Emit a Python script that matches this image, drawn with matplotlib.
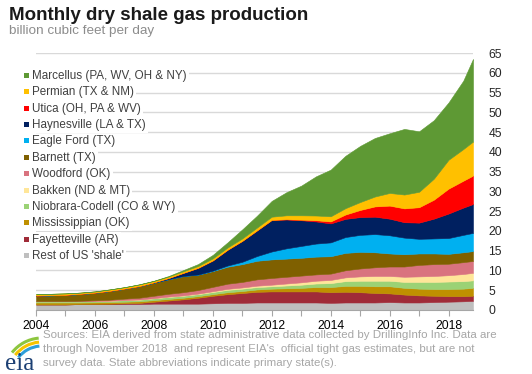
import matplotlib
matplotlib.use("Agg")
import matplotlib.pyplot as plt
from matplotlib.patches import Rectangle, Arc

plt.rcParams['font.family'] = ['Liberation Sans', 'DejaVu Sans']

W, H = 532, 374

# half-year readings, Jan / Jul of each year, last point = Nov 2018
years = [2004.0, 2004.5, 2005.0, 2005.5, 2006.0, 2006.5, 2007.0, 2007.5, 2008.0, 2008.5,
         2009.0, 2009.5, 2010.0, 2010.5, 2011.0, 2011.5, 2012.0, 2012.5, 2013.0, 2013.5,
         2014.0, 2014.5, 2015.0, 2015.5, 2016.0, 2016.5, 2017.0, 2017.5, 2018.0, 2018.5, 2018.83]

rest = [1.4, 1.4, 1.4, 1.5, 1.5, 1.5, 1.5, 1.5, 1.6, 1.6, 1.6, 1.6, 1.7, 1.8, 1.8, 1.9, 1.9, 1.9,
        1.9, 1.9, 1.8, 1.9, 1.9, 1.9, 2.0, 1.9, 1.9, 2.0, 2.1, 2.2, 2.3]
fayetteville = [0, 0, 0, 0, 0.05, 0.1, 0.2, 0.3, 0.5, 0.8, 1.1, 1.5, 1.9, 2.2, 2.5, 2.7, 2.8, 2.8,
                2.8, 2.8, 2.7, 2.7, 2.6, 2.4, 2.2, 2.0, 1.8, 1.6, 1.4, 1.3, 1.3]
mississippian = [0.5, 0.5, 0.5, 0.4, 0.4, 0.4, 0.4, 0.4, 0.4, 0.4, 0.4, 0.4, 0.4, 0.5, 0.5, 0.6,
                 0.7, 0.8, 0.9, 1.1, 1.3, 1.5, 1.6, 1.7, 1.8, 1.7, 1.7, 1.7, 1.8, 1.9, 2.0]
niobrara = [0.3, 0.3, 0.3, 0.3, 0.3, 0.35, 0.4, 0.4, 0.45, 0.5, 0.5, 0.5, 0.55, 0.6, 0.6, 0.6, 0.6,
            0.7, 0.8, 0.9, 1.0, 1.2, 1.3, 1.4, 1.4, 1.5, 1.7, 1.8, 1.9, 1.9, 1.9]
bakken = [0, 0, 0, 0, 0, 0, 0.02, 0.05, 0.05, 0.1, 0.1, 0.15, 0.2, 0.25, 0.3, 0.35, 0.4, 0.5, 0.6,
          0.7, 0.8, 0.95, 1.1, 1.2, 1.2, 1.3, 1.4, 1.5, 1.6, 1.8, 1.9]
woodford = [0.1, 0.1, 0.1, 0.15, 0.2, 0.25, 0.35, 0.45, 0.6, 0.7, 0.8, 0.9, 1.1, 1.3, 1.4, 1.6, 1.7,
            1.7, 1.7, 1.6, 1.6, 1.8, 2.0, 2.2, 2.4, 2.6, 2.9, 3.0, 2.9, 3.0, 3.0]
barnett = [1.3, 1.4, 1.5, 1.7, 1.9, 2.2, 2.5, 2.9, 3.3, 3.7, 4.1, 3.9, 4.0, 4.3, 4.5, 4.7, 4.7, 4.6,
           4.5, 4.5, 4.4, 4.4, 4.2, 3.8, 3.3, 3.1, 2.9, 2.7, 2.5, 2.5, 2.5]
eagle_ford = [0, 0, 0, 0, 0, 0, 0, 0, 0, 0, 0, 0.02, 0.1, 0.3, 0.6, 1.2, 2.0, 2.6, 3.0, 3.3, 3.5,
              4.0, 4.3, 4.6, 4.6, 4.2, 3.7, 3.8, 4.0, 4.4, 4.6]
haynesville = [0.05, 0.05, 0.05, 0.05, 0.05, 0.05, 0.05, 0.05, 0.1, 0.3, 0.8, 1.7, 2.6, 4.0, 5.3,
               6.5, 8.0, 7.3, 6.5, 5.6, 4.8, 4.6, 4.5, 4.4, 4.2, 3.9, 4.1, 5.0, 6.2, 6.9, 7.3]
utica = [0, 0, 0, 0, 0, 0, 0, 0, 0, 0, 0, 0, 0, 0, 0, 0, 0, 0.05, 0.15, 0.3, 0.5, 1.1, 1.8, 2.6,
         3.3, 3.5, 3.9, 4.8, 6.3, 6.8, 7.2]
permian = [0.35, 0.35, 0.35, 0.3, 0.3, 0.35, 0.35, 0.4, 0.35, 0.35, 0.4, 0.45, 0.5, 0.55, 0.6,
           0.7, 0.8, 1.0, 1.1, 1.2, 1.3, 1.6, 2.0, 2.5, 3.2, 3.5, 3.9, 5.3, 7.3, 8.0, 8.6]
marcellus = [0, 0, 0, 0, 0, 0, 0, 0.05, 0.05, 0.15, 0.3, 0.5, 0.9, 1.3, 2.3, 3.0, 4.0, 5.85, 7.5,
             9.9, 11.8, 13.25, 14.2, 14.8, 15.1, 16.6, 15.3, 14.8, 14.5, 17.3, 20.9]

# legend order, top to bottom
labels = ['Marcellus (PA, WV, OH & NY)', 'Permian (TX & NM)', 'Utica (OH, PA & WV)',
          'Haynesville (LA & TX)', 'Eagle Ford (TX)', 'Barnett (TX)', 'Woodford (OK)',
          'Bakken (ND & MT)', 'Niobrara-Codell (CO & WY)', 'Mississippian (OK)',
          'Fayetteville (AR)', "Rest of US 'shale'"]
colors = ['#5e9934', '#ffc000', '#ff0000', '#002060', '#00b0f0', '#7f6000', '#d9737f',
          '#ffe699', '#9bd275', '#bf9000', '#a02b38', '#bfbfbf']

series = [rest, fayetteville, mississippian, niobrara, bakken, woodford, barnett,
          eagle_ford, haynesville, utica, permian, marcellus]

fig = plt.figure(figsize=(W / 100, H / 100), dpi=100)
ax = fig.add_axes([36 / W, 1 - 310 / H, (473 - 36) / W, (310 - 53) / H])

polys = ax.stackplot(years, *series, colors=colors[::-1], linewidth=0)
for p, c in zip(polys, colors[::-1]):
    p.set_edgecolor(c)
    p.set_linewidth(0.4)

ax.set_xlim(2004, 2018.83)
ax.set_ylim(0, 65)
ax.set_yticks(range(0, 66, 5))
ax.grid(axis='y', color='#d9d9d9', linewidth=1)
ax.set_axisbelow(True)
ax.yaxis.tick_right()
ax.tick_params(axis='y', length=0, pad=11, labelsize=8.7, labelcolor='#262626')
for lab in ax.get_yticklabels():
    lab.set_horizontalalignment('left')

xt = list(range(2004, 2019))
ax.set_xticks(xt)
ax.set_xticklabels([str(y) if y % 2 == 0 else '' for y in xt])
ax.tick_params(axis='x', length=4, color='#a6a6a6', pad=3, labelsize=8.8, labelcolor='#000000')
for s in ['top', 'left', 'right']:
    ax.spines[s].set_visible(False)
ax.spines['bottom'].set_color('#a6a6a6')

# titles
fig.text(9 / W, 1 - 20.5 / H, 'Monthly dry shale gas production', fontsize=13.5,
         fontweight='bold', color='#1a1a1a', va='baseline')
fig.text(9 / W, 1 - 34 / H, 'billion cubic feet per day', fontsize=9.7,
         color='#8c8c8c', va='baseline')

# legend drawn by hand, white boxes cut the gridlines like the original
for i, (lab, c) in enumerate(zip(labels, colors)):
    yc = 75 + 16.36 * i
    fig.text(32.5 / W, 1 - (yc + 4) / H, lab, fontsize=8.4, color='#404040', va='baseline',
             bbox=dict(boxstyle='square,pad=0.15', fc='white', ec='none'))
    fig.add_artist(Rectangle((24.3 / W, 1 - (yc + 3) / H), 5 / W, 5 / H,
                             transform=fig.transFigure, facecolor=c, edgecolor='none'))

# source note
src = ["Sources: EIA derived from state administrative data collected by DrillingInfo Inc. Data are",
       "through November 2018  and represent EIA's  official tight gas estimates, but are not",
       "survey data. State abbreviations indicate primary state(s)."]
for i, line in enumerate(src):
    fig.text(43 / W, 1 - (338.5 + 14 * i) / H, line, fontsize=8.25, color='#a6a6a6', va='baseline')

# eia logo
lax = fig.add_axes([0, 0, 45 / W, 45 / H])
lax.set_xlim(0, 45)
lax.set_ylim(0, 45)
lax.axis('off')
for r, c in [(38, '#8dc63f'), (34, '#f7c400'), (30, '#2e9fd9')]:
    lax.add_patch(Arc((42, -2), 2 * r, 2 * r, theta1=95, theta2=142, color=c, linewidth=2.2))
lax.text(5, 3.5, 'eia', fontsize=18, family='Liberation Serif', color='#1b3f73', va='baseline')

fig.savefig('out.png', dpi=100)
